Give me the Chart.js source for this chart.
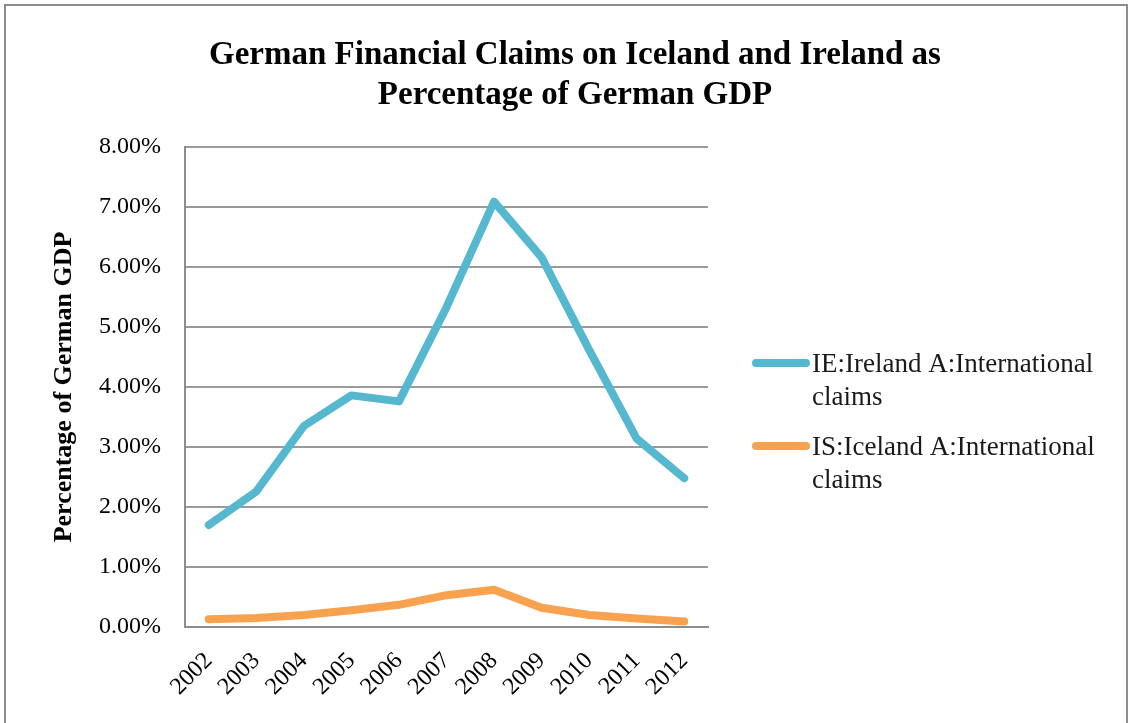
<!DOCTYPE html>
<html>
<head>
<meta charset="utf-8">
<script src="https://cdn.jsdelivr.net/npm/chart.js@4.4.0/dist/chart.umd.min.js"></script>
<style>
  html, body { margin: 0; padding: 0; background: #fff; }
  #wrap { position: relative; width: 1133px; height: 723px; overflow: hidden; }
  #frame { position: absolute; left: 4px; top: 4px; width: 1124px; height: 740px; border: 2px solid #8c8c8c; box-sizing: border-box; }
  canvas { position: absolute; left: 0; top: 0; }
</style>
</head>
<body>
<div id="wrap">
  <div id="frame"></div>
  <canvas id="chart" width="1133" height="723"></canvas>
</div>
<script>
// years on the category axis
const years = ['2002', '2003', '2004', '2005', '2006', '2007', '2008', '2009', '2010', '2011', '2012'];
// claims as % of German GDP
const ireland = [1.70, 2.26, 3.35, 3.86, 3.76, 5.33, 7.09, 6.16, 4.62, 3.14, 2.48];
const iceland = [0.13, 0.15, 0.20, 0.28, 0.37, 0.53, 0.62, 0.32, 0.20, 0.14, 0.09];
const seriesNames = [
  ['IE:Ireland A:International', 'claims'],
  ['IS:Iceland A:International', 'claims']
];
const yTicks = [0, 1, 2, 3, 4, 5, 6, 7, 8];

const SERIF = "'Liberation Serif', 'DejaVu Serif', serif";

// draws the two-line legend in the space kept free on the right
const sideLegend = {
  id: 'sideLegend',
  afterDraw(chart) {
    const ctx = chart.ctx;
    ctx.save();
    chart.data.datasets.forEach((ds, i) => {
      const y = 363 + i * 83;
      ctx.strokeStyle = ds.borderColor;
      ctx.lineWidth = 8;
      ctx.lineCap = 'round';
      ctx.beginPath();
      ctx.moveTo(756, y);
      ctx.lineTo(806, y);
      ctx.stroke();
      ctx.fillStyle = '#1a1a1a';
      ctx.font = '27px ' + SERIF;
      ctx.textBaseline = 'middle';
      ctx.textAlign = 'left';
      seriesNames[i].forEach((t, j) => ctx.fillText(t, 812, y + 2 + j * 33));
    });
    ctx.restore();
  }
};

const ctx = document.getElementById('chart').getContext('2d');
new Chart(ctx, {
  type: 'line',
  data: {
    labels: years,
    datasets: [{
      label: seriesNames[0].join(' '),
      data: ireland,
      borderColor: '#55b8cf',
      borderWidth: 8,
      borderCapStyle: 'round',
      borderJoinStyle: 'round',
      pointRadius: 0,
      tension: 0
    }, {
      label: seriesNames[1].join(' '),
      data: iceland,
      borderColor: '#f8a24f',
      borderWidth: 8,
      borderCapStyle: 'round',
      borderJoinStyle: 'round',
      pointRadius: 0,
      tension: 0
    }]
  },
  options: {
    responsive: false,
    animation: false,
    layout: { padding: { left: 17, right: 0, top: 0, bottom: 0 } },
    plugins: {
      legend: { display: false },
      tooltip: { enabled: false },
      title: {
        display: true,
        text: ['German Financial Claims on Iceland and Ireland as', 'Percentage of German GDP'],
        color: '#000',
        font: { family: SERIF, size: 33, weight: 'bold', lineHeight: 40 / 33 },
        padding: { top: 35, bottom: 32 }
      }
    },
    scales: {
      x: {
        offset: true,
        grid: { display: false, drawTicks: false },
        border: { display: true, color: '#8c8c8c', width: 2 },
        ticks: {
          color: '#000',
          font: { family: SERIF, size: 24 },
          minRotation: 45,
          maxRotation: 45,
          padding: 20
        },
        afterFit(s) { s.height = 96; }
      },
      y: {
        min: 0,
        max: 8,
        afterBuildTicks(s) { s.ticks = yTicks.map(v => ({ value: v })); },
        grid: { color: '#9a9a9a', lineWidth: 2, drawTicks: false },
        border: { display: true, color: '#8c8c8c', width: 2 },
        ticks: {
          color: '#000',
          font: { family: SERIF, size: 24 },
          padding: 24,
          callback: v => v.toFixed(2) + '%'
        },
        title: {
          display: true,
          text: 'Percentage of German GDP',
          color: '#000',
          font: { family: SERIF, size: 26, weight: 'bold' },
          padding: { top: 32, bottom: 0 }
        },
        afterFit(s) { s.width = 168; }
      },
      room: {
        position: 'right',
        type: 'linear',
        grid: { display: false, drawTicks: false },
        border: { display: false },
        ticks: { display: false },
        afterFit(s) { s.width = 425; }
      }
    }
  },
  plugins: [sideLegend]
});
</script>
</body>
</html>
